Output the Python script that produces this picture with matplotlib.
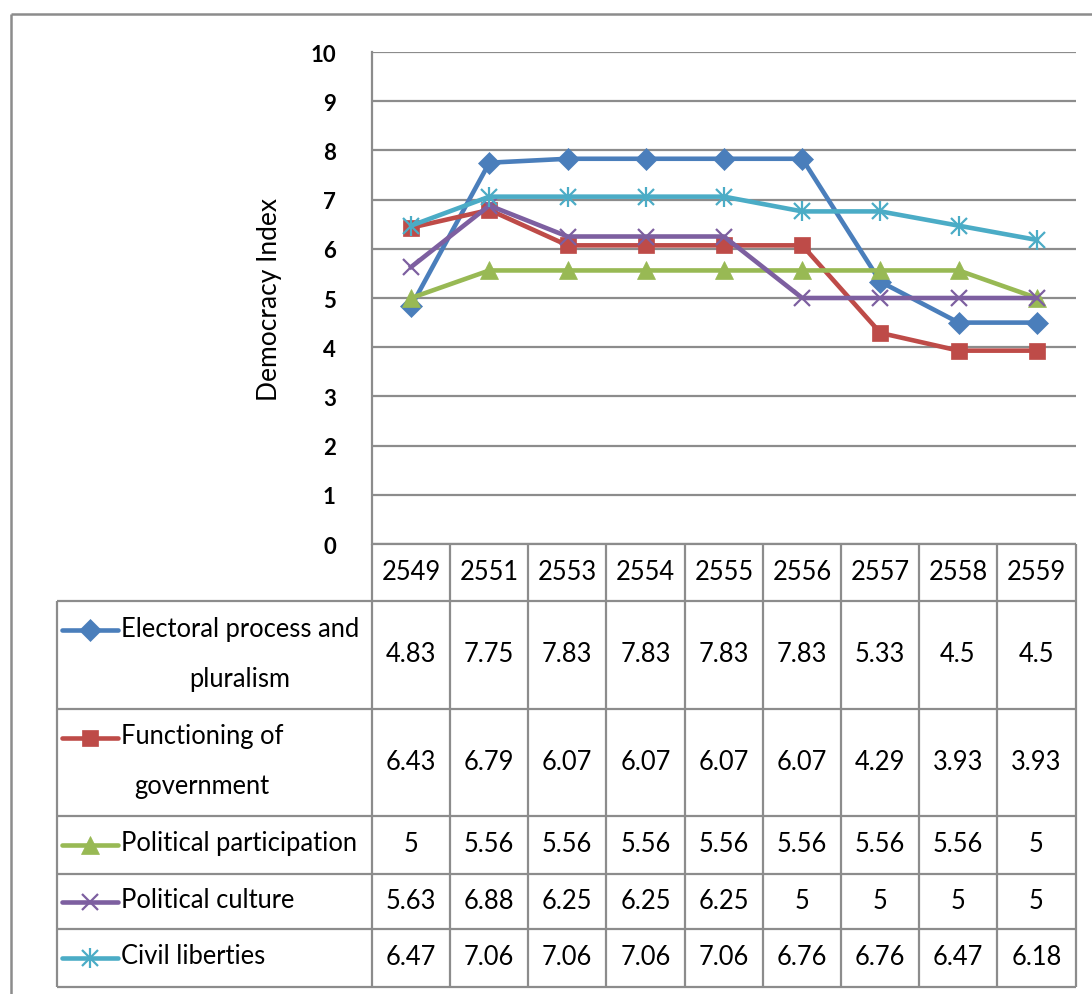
import matplotlib
matplotlib.use("Agg")
import matplotlib.pyplot as plt
from matplotlib.lines import Line2D

years = ["2549", "2551", "2553", "2554", "2555", "2556", "2557", "2558", "2559"]
series_names = ["Electoral process and\npluralism", "Functioning of\ngovernment",
                "Political participation", "Political culture", "Civil liberties"]
electoral = [4.83, 7.75, 7.83, 7.83, 7.83, 7.83, 5.33, 4.5, 4.5]
functioning = [6.43, 6.79, 6.07, 6.07, 6.07, 6.07, 4.29, 3.93, 3.93]
participation = [5, 5.56, 5.56, 5.56, 5.56, 5.56, 5.56, 5.56, 5]
culture = [5.63, 6.88, 6.25, 6.25, 6.25, 5, 5, 5, 5]
civil = [6.47, 7.06, 7.06, 7.06, 7.06, 6.76, 6.76, 6.47, 6.18]
y_ticks = [0, 1, 2, 3, 4, 5, 6, 7, 8, 9, 10]

all_series = [electoral, functioning, participation, culture, civil]
colors = ["#4A7EBB", "#BE4B48", "#98B954", "#7D5FA0", "#4BACC6"]
markers = ["D", "s", "^", "x", "x"]
msizes = [11, 12, 13, 11, 11]

W, H = 1092, 995
FONT = "Lato"
plt.rcParams['font.family'] = [FONT, 'DejaVu Sans']
FS = 18.4

fig = plt.figure(figsize=(W / 100, H / 100), dpi=100)

def fx(x):
    return x / W

def fy(y):
    return 1 - y / H

def hline(x0, x1, y, color="#8c8c8c", lw=1.6):
    fig.add_artist(Line2D([fx(x0), fx(x1)], [fy(y), fy(y)], transform=fig.transFigure,
                          color=color, lw=lw, solid_capstyle="butt"))

def vline(x, y0, y1, color="#8c8c8c", lw=1.6):
    fig.add_artist(Line2D([fx(x), fx(x)], [fy(y0), fy(y1)], transform=fig.transFigure,
                          color=color, lw=lw, solid_capstyle="butt"))

# outer frame
hline(11, W, 15, lw=1.8)
vline(11, 15, H, lw=1.8)

# plot area
L, R, T, B = 372, 1076, 53, 545
ax = fig.add_axes([fx(L), fy(B), (R - L) / W, (B - T) / H])
ax.set_xlim(-0.5, len(years) - 0.5)
ax.set_ylim(0, 10)
ax.set_yticks(y_ticks)
ax.set_yticklabels([str(t) for t in y_ticks], fontsize=16, fontweight="bold")
ax.tick_params(axis="y", length=0, pad=26)
ax.set_xticks([])
for s in ["top", "right", "bottom"]:
    ax.spines[s].set_visible(False)
ax.spines["left"].set_color("#8c8c8c")
ax.spines["left"].set_linewidth(1.6)
ax.grid(axis="y", color="#8c8c8c", lw=1.6)
ax.set_axisbelow(True)
ax.set_ylabel("Democracy Index", fontsize=19, labelpad=20)

xs = list(range(len(years)))
for i, (vals, c, m, ms) in enumerate(zip(all_series, colors, markers, msizes)):
    ax.plot(xs, vals, color=c, lw=3.3, marker=m, markersize=ms,
            markeredgewidth=1.6 if m == "x" else 0.5, markeredgecolor=c,
            markerfacecolor=c, clip_on=False, zorder=3 + i)
    if i == 4:
        ax.plot(xs, vals, color=c, lw=0, marker="|", markersize=ms + 3,
                markeredgewidth=1.6, clip_on=False, zorder=3 + i)

# data table
col_edges = [372, 450, 528, 606, 685, 763, 841, 919, 997, 1076]
row_edges = [602, 710, 817, 875, 930, 988]
header_top = 545
table_left = 57

hline(L, R, header_top)
for y in row_edges:
    hline(table_left, R, y)
for x in col_edges:
    vline(x, header_top, row_edges[-1])
vline(table_left, row_edges[0], row_edges[-1])

for j, yr in enumerate(years):
    cx = (col_edges[j] + col_edges[j + 1]) / 2
    fig.text(fx(cx), fy((header_top + row_edges[0]) / 2 - 1), yr, ha="center", va="center",
             fontsize=FS)

for i, (name, vals, c, m, ms) in enumerate(zip(series_names, all_series, colors, markers, msizes)):
    top, bot = row_edges[i], row_edges[i + 1]
    cy = (top + bot) / 2
    nlines = name.count("\n") + 1
    line_h = 50
    first_y = cy - (nlines - 1) * line_h / 2
    fig.add_artist(Line2D([fx(62), fx(118)], [fy(first_y), fy(first_y)], transform=fig.transFigure,
                          color=c, lw=3.3, solid_capstyle="round"))
    fig.add_artist(Line2D([fx(90)], [fy(first_y)], transform=fig.transFigure, color=c,
                          marker=m, markersize=ms, markeredgewidth=1.6 if m == "x" else 0.5,
                          markeredgecolor=c, markerfacecolor=c))
    if i == 4:
        fig.add_artist(Line2D([fx(90)], [fy(first_y)], transform=fig.transFigure, color=c,
                              marker="|", markersize=ms + 3, markeredgewidth=1.6))
    fig.text(fx(121), fy(cy - 2), name, ha="left", va="center", fontsize=FS,
             multialignment="center", linespacing=2.25)
    for j, v in enumerate(vals):
        cx = (col_edges[j] + col_edges[j + 1]) / 2
        fig.text(fx(cx), fy(cy - 1), f"{v:g}", ha="center", va="center", fontsize=FS)

fig.savefig("out.png", dpi=100)
